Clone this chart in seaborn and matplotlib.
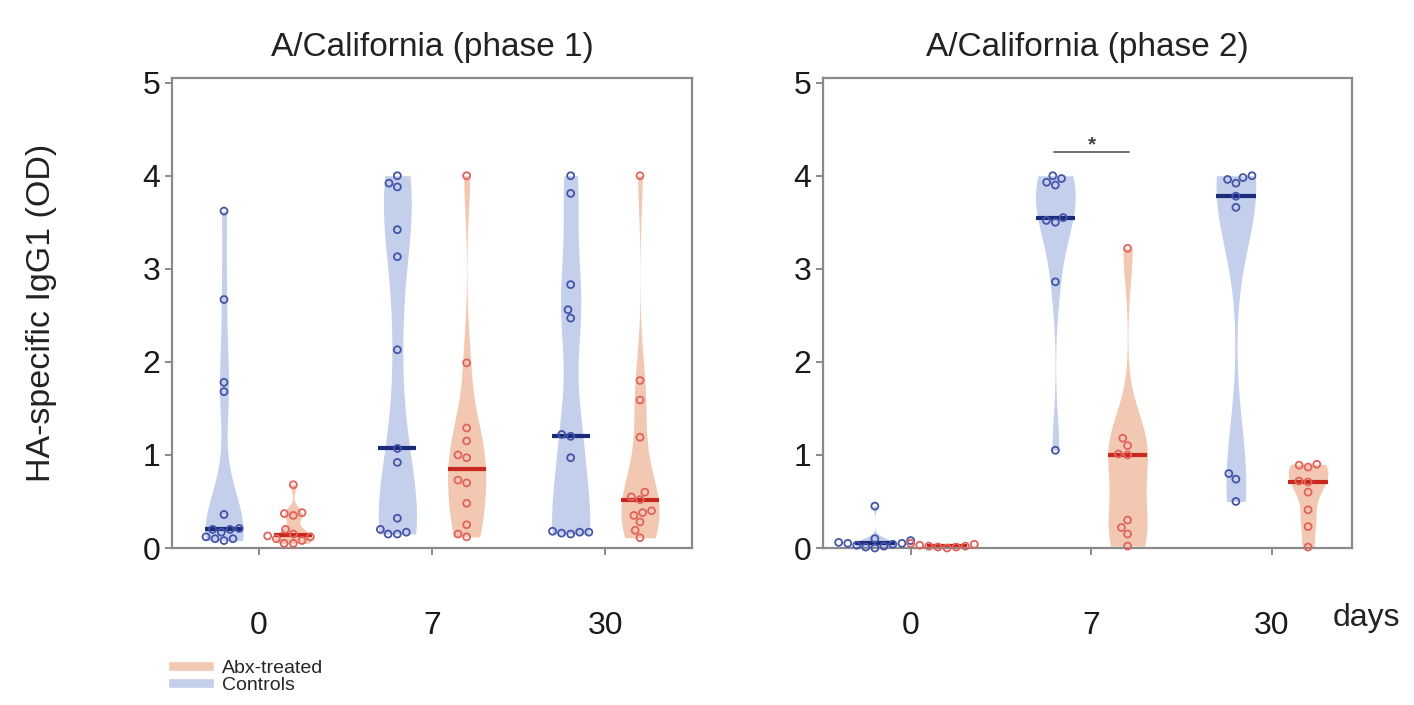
import numpy as np
import pandas as pd
import matplotlib
matplotlib.use("Agg")
import matplotlib.pyplot as plt
from matplotlib.patches import Patch
import seaborn as sns

days = ["0", "7", "30"]
groups = ["Controls", "Abx-treated"]

# phase 1 (OD values)
p1_ctrl_d0 = [3.62, 2.67, 1.78, 1.68, 0.36, 0.21, 0.2, 0.2, 0.17, 0.12, 0.1, 0.1, 0.08]
p1_abx_d0 = [0.68, 0.38, 0.37, 0.35, 0.2, 0.15, 0.13, 0.12, 0.1, 0.08, 0.05, 0.05]
p1_ctrl_d7 = [4.0, 3.92, 3.88, 3.42, 3.13, 2.13, 1.07, 0.92, 0.32, 0.2, 0.17, 0.15, 0.15]
p1_abx_d7 = [4.0, 1.99, 1.29, 1.15, 1.0, 0.97, 0.73, 0.7, 0.48, 0.25, 0.15, 0.12]
p1_ctrl_d30 = [4.0, 3.81, 2.83, 2.56, 2.47, 1.22, 1.2, 0.97, 0.18, 0.17, 0.17, 0.16, 0.15]
p1_abx_d30 = [4.0, 1.8, 1.59, 1.19, 0.6, 0.55, 0.52, 0.4, 0.38, 0.35, 0.28, 0.19, 0.11]

# phase 2
p2_ctrl_d0 = [0.45, 0.1, 0.08, 0.06, 0.05, 0.05, 0.04, 0.03, 0.02, 0.01, 0.0]
p2_abx_d0 = [0.05, 0.04, 0.03, 0.02, 0.02, 0.01, 0.01, 0.0]
p2_ctrl_d7 = [4.0, 3.97, 3.93, 3.9, 3.55, 3.52, 3.5, 2.86, 1.05]
p2_abx_d7 = [3.22, 1.18, 1.1, 1.01, 1.0, 0.3, 0.22, 0.15, 0.02]
p2_ctrl_d30 = [4.0, 3.98, 3.96, 3.92, 3.78, 3.66, 0.8, 0.74, 0.5]
p2_abx_d30 = [0.9, 0.89, 0.87, 0.72, 0.71, 0.6, 0.41, 0.23, 0.01]

fill_pal = {"Controls": "#c4cfec", "Abx-treated": "#f2c8b2"}
point_pal = {"Controls": "#4454a8", "Abx-treated": "#e0645c"}
median_pal = {"Controls": "#1c2a7a", "Abx-treated": "#c8281f"}
grey = "#8a8a8a"


def make_frame(ctrl, abx):
    rows = []
    for day, c, a in zip(days, ctrl, abx):
        rows += [(day, "Controls", v) for v in c]
        rows += [(day, "Abx-treated", v) for v in a]
    return pd.DataFrame(rows, columns=["day", "group", "od"])


df1 = make_frame([p1_ctrl_d0, p1_ctrl_d7, p1_ctrl_d30], [p1_abx_d0, p1_abx_d7, p1_abx_d30])
df2 = make_frame([p2_ctrl_d0, p2_ctrl_d7, p2_ctrl_d30], [p2_abx_d0, p2_abx_d7, p2_abx_d30])

sns.set_style("ticks")
plt.rcParams["font.family"] = ["Liberation Sans", "DejaVu Sans"]

fig = plt.figure(figsize=(14.14, 7.05), dpi=100, facecolor="white")
ax1 = fig.add_axes([172 / 1414, 1 - 548 / 705, 520 / 1414, 470 / 705])
ax2 = fig.add_axes([823 / 1414, 1 - 548 / 705, 529 / 1414, 470 / 705])


def draw_panel(ax, df, title):
    sns.violinplot(data=df, x="day", y="od", hue="group", order=days, hue_order=groups,
                   palette=fill_pal, inner=None, cut=0, bw_adjust=0.6, density_norm="width",
                   width=0.8, gap=0.45, linewidth=0, saturation=1, legend=False, ax=ax)
    n = len(ax.collections)
    sns.swarmplot(data=df, x="day", y="od", hue="group", order=days, hue_order=groups,
                  palette=point_pal, dodge=True, size=5, legend=False, ax=ax)
    # hollow circles
    for coll in ax.collections[n:]:
        fc = coll.get_facecolors()
        coll.set_edgecolors(fc)
        coll.set_facecolors("none")
        coll.set_linewidth(1.3)
        coll.set_clip_on(False)
    # median bars only (box, whiskers, caps hidden)
    n_lines = len(ax.lines)
    sns.boxplot(data=df, x="day", y="od", hue="group", order=days, hue_order=groups,
                width=0.8, gap=0.45, showbox=False, showcaps=False, showfliers=False,
                whiskerprops={"visible": False}, medianprops={"linewidth": 3},
                legend=False, ax=ax)
    for line in ax.lines[n_lines:]:
        if not line.get_visible():
            continue
        mid = np.mean(np.asarray(line.get_xdata(), dtype=float))
        g = "Controls" if mid < round(mid) else "Abx-treated"
        line.set_color(median_pal[g])
    ax.set_ylim(0, 5.05)
    ax.set_yticks([0, 1, 2, 3, 4, 5])
    ax.set_xlabel("")
    ax.set_ylabel("")
    ax.set_title(title, fontsize=24, pad=16, color="#222222")
    for side in ["left", "bottom", "top", "right"]:
        ax.spines[side].set_visible(True)
        ax.spines[side].set_color(grey)
        ax.spines[side].set_linewidth(1.6)
    ax.tick_params(axis="both", labelsize=23, color=grey, length=5, width=1.4,
                   labelcolor="#1a1a1a")
    ax.tick_params(axis="x", pad=40)


draw_panel(ax1, df1, "A/California (phase 1)")
draw_panel(ax2, df2, "A/California (phase 2)")

ax1.set_ylabel("HA-specific IgG1 (OD)", fontsize=24.5, color="#222222")
ax1.yaxis.set_label_coords(-0.221, 0.5)

# significance bar between day-7 groups in phase 2
ax2.plot([0.79, 1.21], [4.25, 4.25], color="#555555", lw=1.2)
ax2.text(1.0, 4.23, "*", ha="center", va="bottom", fontsize=15, color="#444444",
         fontweight="bold")

fig.text(1333 / 1414, 1 - 618 / 705, "days", ha="left", va="center", fontsize=23,
         color="#222222")

handles = [Patch(facecolor=fill_pal["Abx-treated"], label="Abx-treated"),
           Patch(facecolor=fill_pal["Controls"], label="Controls")]
fig.legend(handles=handles, loc="upper left", bbox_to_anchor=(158 / 1414, 1 - 650 / 705),
           frameon=False, fontsize=14, handlelength=2.4, handleheight=0.45,
           labelspacing=0.0, handletextpad=0.4, borderpad=0)

fig.savefig("out.png", dpi=100, facecolor="white")
